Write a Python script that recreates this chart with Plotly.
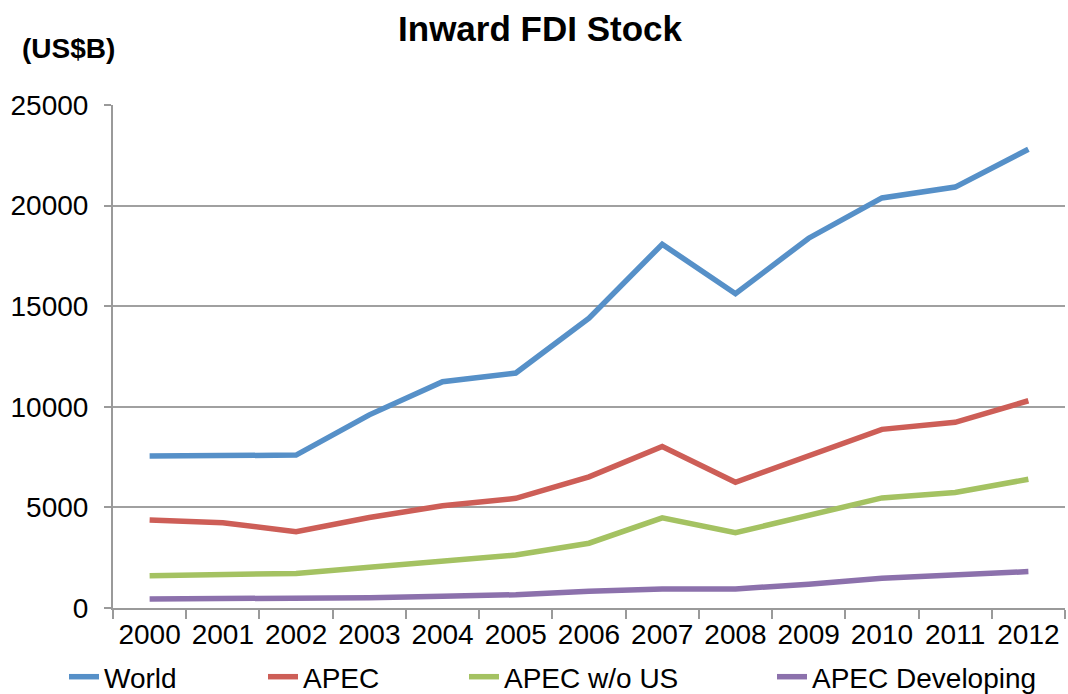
import plotly.graph_objects as go

years = ["2000", "2001", "2002", "2003", "2004", "2005", "2006",
         "2007", "2008", "2009", "2010", "2011", "2012"]
world = [7550, 7600, 7600, 9600, 11250, 11680, 14400, 18080, 15620, 18380, 20380, 20920, 22800]
apec = [4370, 4240, 3790, 4500, 5080, 5450, 6520, 8030, 6250, 7580, 8880, 9230, 10300]
apec_wo_us = [1600, 1670, 1720, 2020, 2320, 2630, 3220, 4480, 3740, 4600, 5470, 5740, 6400]
apec_dev = [450, 450, 450, 510, 580, 660, 830, 950, 950, 1180, 1480, 1660, 1810]

series_names = ["World", "APEC", "APEC w/o US", "APEC Developing"]
series_values = [world, apec, apec_wo_us, apec_dev]
colors = ["#5690C8", "#CD5E57", "#A4C262", "#8C71AC"]
legend_ids = ["legend", "legend2", "legend3", "legend4"]
legend_text_px = [105, 304, 505, 813]  # pixel x where each legend label starts

FONT = "Liberation Sans, Arial, sans-serif"
L, R, T, B = 113, 3, 105, 86
W, H = 1068, 694

fig = go.Figure()
for name, vals, col, lid in zip(series_names, series_values, colors, legend_ids):
    fig.add_trace(go.Scatter(x=years, y=vals, name=name, mode="lines",
                             line=dict(color=col, width=5.5), legend=lid))

layout_legends = {}
for lid, px in zip(legend_ids, legend_text_px):
    layout_legends[lid] = dict(
        xref="container", yref="container",
        x=(px - 41) / W, xanchor="left",
        y=1 - 677 / H, yanchor="middle",
        orientation="h", font=dict(family=FONT, size=28, color="#000"),
        bgcolor="rgba(0,0,0,0)", itemwidth=30,
    )

fig.update_layout(
    width=W, height=H,
    margin=dict(l=L, r=R, t=T, b=B, autoexpand=False),
    paper_bgcolor="white", plot_bgcolor="white",
    title=dict(text="<b>Inward FDI Stock</b>", x=540 / W, xanchor="center",
               y=1 - 29 / H, yanchor="middle",
               font=dict(family=FONT, size=35, color="#000")),
    showlegend=True,
    **layout_legends,
    xaxis=dict(type="category", range=[-0.5, 12.5], showline=True,
               linecolor="#9a9a9a", linewidth=2, ticks="outside",
               tickson="boundaries", ticklen=9, tickwidth=2, tickcolor="#9a9a9a",
               showgrid=False, automargin=False,
               tickfont=dict(family=FONT, size=28, color="#000")),
    yaxis=dict(range=[0, 25000], dtick=5000, tick0=0, showline=True,
               linecolor="#9a9a9a", linewidth=2, ticks="outside", ticklen=7,
               tickwidth=2, tickcolor="#9a9a9a", showgrid=True,
               gridcolor="#a0a0a0", gridwidth=2, zeroline=False,
               tickformat="d", ticklabelstandoff=10, automargin=False,
               tickfont=dict(family=FONT, size=28, color="#000")),
    annotations=[dict(text="<b>(US$B)</b>", xref="paper", yref="paper",
                      x=(68 - L) / (W - L - R), y=(H - B - 48) / (H - T - B),
                      xanchor="center", yanchor="middle", showarrow=False,
                      font=dict(family=FONT, size=28, color="#000"))],
)

fig.write_html("out.html", config={"displayModeBar": False},
               post_script="document.body.style.margin='0';document.body.style.overflow='hidden';")
